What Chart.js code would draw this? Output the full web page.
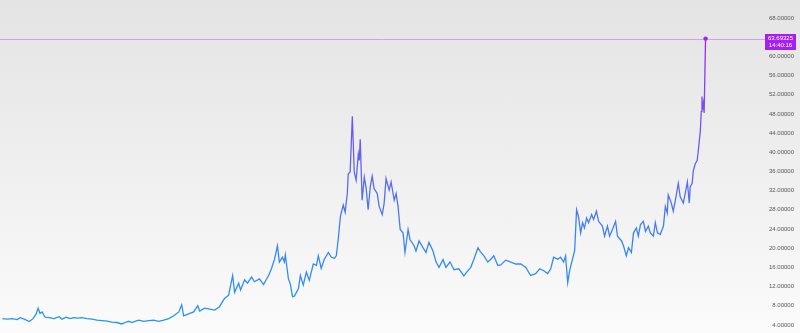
<!DOCTYPE html>
<html>
<head>
<meta charset="utf-8">
<script src="https://cdn.jsdelivr.net/npm/chart.js@4.4.1/dist/chart.umd.min.js"></script>
<style>
  html, body { margin: 0; padding: 0; }
  body {
    width: 800px; height: 333px; overflow: hidden;
    background: linear-gradient(to bottom, #e4e4e4 0%, #f0f0f0 55%, #fbfbfb 100%);
  }
  #wrap { position: relative; width: 800px; height: 333px; }
</style>
</head>
<body>
<div id="wrap"><canvas id="chart"></canvas></div>
<script>
// decimal years
const dates = [
  1996.60, 1996.81, 1997.02, 1997.23, 1997.35, 1997.52, 1997.73, 1997.89, 1998.02, 1998.10,
  1998.18, 1998.27, 1998.39, 1998.56, 1998.77, 1998.98, 1999.10, 1999.27, 1999.43, 1999.60,
  1999.77, 1999.93, 2000.14, 2000.35, 2000.56, 2000.77, 2000.98, 2001.18, 2001.39, 2001.60,
  2001.73, 2001.89, 2002.02, 2002.18, 2002.31, 2002.52, 2002.73, 2002.93, 2003.14, 2003.35,
  2003.56, 2003.77, 2003.98, 2004.10, 2004.18, 2004.39, 2004.60, 2004.77, 2004.85, 2005.06,
  2005.27, 2005.48, 2005.68, 2005.89, 2006.06, 2006.23, 2006.31, 2006.48, 2006.56, 2006.73,
  2006.85, 2007.02, 2007.14, 2007.35, 2007.52, 2007.73, 2007.85, 2007.98, 2008.10, 2008.18,
  2008.31, 2008.39, 2008.43, 2008.56, 2008.64, 2008.73, 2008.81, 2008.98, 2009.06, 2009.18,
  2009.31, 2009.43, 2009.60, 2009.73, 2009.81, 2009.93, 2010.06, 2010.23, 2010.35, 2010.48,
  2010.56, 2010.64, 2010.73, 2010.85, 2010.93, 2011.02, 2011.06, 2011.14, 2011.23, 2011.31,
  2011.39, 2011.48, 2011.52, 2011.56, 2011.64, 2011.73, 2011.81, 2011.89, 2011.98, 2012.06,
  2012.14, 2012.27, 2012.35, 2012.48, 2012.56, 2012.64, 2012.77, 2012.85, 2012.98, 2013.06,
  2013.14, 2013.23, 2013.35, 2013.43, 2013.56, 2013.64, 2013.81, 2013.89, 2014.02, 2014.18,
  2014.31, 2014.43, 2014.60, 2014.73, 2014.85, 2015.02, 2015.14, 2015.31, 2015.48, 2015.68,
  2015.89, 2016.06, 2016.18, 2016.31, 2016.48, 2016.60, 2016.73, 2016.89, 2017.02, 2017.14,
  2017.31, 2017.43, 2017.64, 2017.85, 2018.06, 2018.27, 2018.48, 2018.68, 2018.89, 2019.06,
  2019.23, 2019.39, 2019.52, 2019.64, 2019.81, 2019.93, 2020.06, 2020.14, 2020.23, 2020.31,
  2020.43, 2020.52, 2020.60, 2020.68, 2020.77, 2020.85, 2020.93, 2021.02, 2021.10, 2021.23,
  2021.31, 2021.43, 2021.52, 2021.68, 2021.77, 2021.89, 2021.98, 2022.10, 2022.23, 2022.31,
  2022.48, 2022.56, 2022.68, 2022.77, 2022.89, 2022.98, 2023.10, 2023.18, 2023.27, 2023.39,
  2023.48, 2023.60, 2023.68, 2023.81, 2023.89, 2023.98, 2024.10, 2024.23, 2024.31, 2024.39,
  2024.43, 2024.56, 2024.64, 2024.73, 2024.85, 2024.93, 2025.06, 2025.14, 2025.23, 2025.31,
  2025.35, 2025.43, 2025.48, 2025.56, 2025.64, 2025.68, 2025.77, 2025.81, 2025.84, 2025.86,
  2025.90, 2025.93, 2025.99
];

const prices = [
  5.3, 5.2, 5.3, 5.1, 5.5, 5.2, 4.7, 5.3, 6.3, 7.5,
  6.4, 6.7, 5.6, 5.5, 5.3, 5.7, 5.2, 5.6, 5.3, 5.5,
  5.4, 5.5, 5.3, 5.2, 5.0, 4.9, 4.8, 4.6, 4.5, 4.2,
  4.5, 4.75, 4.5, 4.8, 5.0, 4.75, 4.9, 5.0, 4.75, 5.0,
  5.3, 5.9, 6.7, 8.2, 5.9, 6.3, 6.7, 8.0, 6.9, 7.5,
  7.3, 7.1, 7.8, 9.5, 10.2, 14.3, 10.8, 12.7, 11.3, 13.4,
  12.7, 14.0, 13.0, 13.6, 12.4, 14.3, 15.7, 17.7, 20.5, 17.1,
  18.1, 17.1, 18.6, 13.6, 12.5, 9.9, 10.0, 11.6, 14.3, 12.3,
  15.0, 13.3, 16.7, 16.4, 18.4, 15.8, 17.7, 19.1, 18.1, 17.9,
  18.4, 21.8, 26.6, 29.0, 27.5, 31.4, 35.5, 35.9, 47.5, 35.9,
  34.2, 39.6, 38.3, 42.7, 30.0, 34.8, 32.4, 28.0, 32.8, 35.0,
  32.4, 31.4, 28.7, 27.0, 29.4, 34.5, 32.1, 33.8, 30.0, 31.4,
  28.7, 23.9, 23.2, 19.1, 23.9, 21.8, 20.5, 19.4, 21.5, 20.1,
  19.1, 21.2, 19.4, 17.1, 16.0, 17.6, 16.0, 17.1, 15.5, 15.7,
  14.2, 15.3, 16.0, 17.7, 20.1, 19.1, 18.4, 17.1, 17.7, 18.4,
  16.4, 16.5, 17.5, 17.1, 16.7, 16.7, 16.0, 14.3, 14.7, 15.7,
  15.3, 14.7, 15.7, 18.1, 17.7, 18.1, 17.1, 18.4, 12.8, 15.3,
  17.7, 19.5, 28.0, 26.6, 23.2, 25.3, 24.2, 26.3, 25.3, 27.0,
  26.0, 27.7, 25.6, 24.6, 22.5, 24.6, 22.5, 23.9, 25.6, 22.5,
  21.5, 20.5, 18.4, 20.1, 19.1, 23.2, 24.2, 22.5, 24.9, 25.6,
  23.5, 24.6, 23.2, 22.5, 25.3, 23.2, 22.9, 24.6, 28.7, 27.3,
  31.1, 29.4, 27.7, 30.0, 33.5, 30.7, 29.4, 31.4, 33.8, 29.4,
  32.8, 33.5, 36.2, 37.6, 38.3, 40.0, 44.4, 48.5, 51.6, 48.9,
  50.2, 48.2, 63.69325
];

const yTicks = [4, 8, 12, 16, 20, 24, 28, 32, 36, 40, 44, 48, 52, 56, 60, 64, 68, 72];
const lastTime = '14:40:16';

const PURPLE = '#a41ff2';
const AXIS_FONT = "'Liberation Sans', Arial, sans-serif";

const points = dates.map((d, i) => ({ x: d, y: prices[i] }));
const lastIdx = prices.length - 1;

function lineGradient(context) {
  const chart = context.chart;
  const area = chart.chartArea;
  if (!area) return '#2196f3';
  const ys = chart.scales.y;
  const g = chart.ctx.createLinearGradient(0, ys.getPixelForValue(4), 0, ys.getPixelForValue(64));
  g.addColorStop(0, '#2196f3');
  g.addColorStop(0.25, '#3489f4');
  g.addColorStop(0.5, '#5a6af1');
  g.addColorStop(0.72, '#7652f0');
  g.addColorStop(1, PURPLE);
  return g;
}

// horizontal last-price line + price box on the right axis
const lastPrice = {
  id: 'lastPrice',
  beforeDatasetsDraw(chart) {
    const { ctx, chartArea } = chart;
    const y = Math.round(chart.scales.y.getPixelForValue(prices[lastIdx])) + 0.5;
    ctx.save();
    ctx.strokeStyle = '#d59cf8';
    ctx.lineWidth = 1;
    ctx.beginPath();
    ctx.moveTo(0, y);
    ctx.lineTo(chartArea.right + 2, y);
    ctx.stroke();
    ctx.restore();
  },
  afterDraw(chart) {
    const { ctx, chartArea } = chart;
    const y = chart.scales.y.getPixelForValue(prices[lastIdx]);
    const bx = chartArea.right + 2, bw = 31, by = Math.round(y) - 5, bh = 16;
    ctx.save();
    ctx.fillStyle = PURPLE;
    ctx.fillRect(bx, by, bw, bh);
    ctx.fillStyle = '#ffffff';
    ctx.font = '6px ' + AXIS_FONT;
    ctx.textAlign = 'center';
    ctx.textBaseline = 'middle';
    ctx.fillText(prices[lastIdx].toFixed(5), bx + bw / 2, by + 4.5);
    ctx.fillText(lastTime, bx + bw / 2, by + 11.5);
    ctx.restore();
  }
};

new Chart(document.getElementById('chart'), {
  type: 'line',
  data: {
    datasets: [{
      data: points,
      borderColor: lineGradient,
      borderWidth: 1.3,
      tension: 0,
      fill: false,
      pointRadius: ctx => (ctx.dataIndex === lastIdx ? 2.2 : 0),
      pointBackgroundColor: PURPLE,
      pointBorderWidth: 0,
      pointHoverRadius: 0
    }]
  },
  options: {
    responsive: true,
    maintainAspectRatio: false,
    animation: false,
    layout: { padding: { left: 0, top: 0, bottom: 0, right: 6 } },
    plugins: { legend: { display: false }, tooltip: { enabled: false } },
    scales: {
      x: {
        type: 'linear',
        display: false,
        min: 1996.6,
        max: 2028.39
      },
      y: {
        position: 'right',
        min: 2.77,
        max: 71.28,
        grid: { display: false },
        border: { display: false },
        ticks: {
          color: '#555555',
          font: { family: AXIS_FONT, size: 6 },
          padding: 1,
          crossAlign: 'far',
          autoSkip: false,
          callback: v => Number(v).toFixed(5)
        },
        afterBuildTicks: s => { s.ticks = yTicks.map(v => ({ value: v })); },
        afterFit: s => { s.width = 31; s.paddingTop = 0; s.paddingBottom = 0; }
      }
    }
  },
  plugins: [lastPrice]
});
</script>
</body>
</html>
